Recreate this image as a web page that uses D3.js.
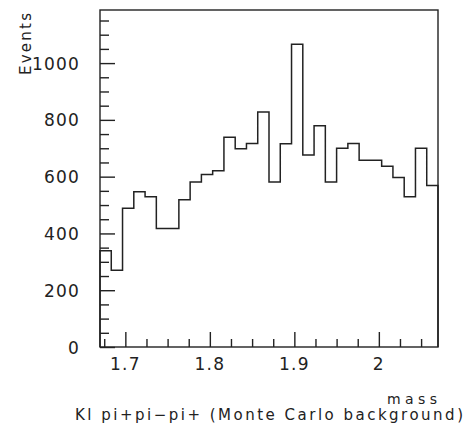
<!DOCTYPE html>
<html>
<head>
<meta charset="utf-8">
<script src="https://cdn.jsdelivr.net/npm/d3@7"></script>
<style>
  html, body { margin: 0; padding: 0; background: #fff; }
  svg { display: block; }
  text { font-family: "DejaVu Sans", sans-serif; fill: #222; }
</style>
</head>
<body>
<svg id="chart" width="474" height="425"></svg>
<script>
// ---- data ----
const xRange = [1.67, 2.07];          // histogram axis range
const binCount = 30;
const counts = [339, 270, 489, 547, 529, 417, 417, 519, 581, 608,
                621, 739, 698, 717, 828, 581, 716, 1066, 676, 779,
                581, 700, 717, 658, 658, 637, 597, 529, 700, 569];
const xTickValues = [1.7, 1.8, 1.9, 2.0];
const xTickLabels = ["1.7", "1.8", "1.9", "2"];
const yTickValues = [0, 200, 400, 600, 800, 1000];
const yTickLabels = ["0", "200", "400", "600", "800", "1000"];
const yMax = 1187;
const xTitle = "mass";
const yTitle = "Events";
const chartTitle = "Kl pi+pi\u2212pi+ (Monte Carlo background)";

// ---- layout ----
const svg = d3.select("#chart");
const L = 100, R = 438, T = 10, B = 347;
const x = d3.scaleLinear().domain(xRange).range([L, R]);
const y = d3.scaleLinear().domain([0, yMax]).range([B, T]);
const ink = "#222";

// frame
svg.append("rect").attr("x", L).attr("y", T).attr("width", R - L).attr("height", B - T)
  .attr("fill", "none").attr("stroke", ink).attr("stroke-width", 1.4);

// axes (ticks pointing inward)
const xAxis = d3.axisTop(x).tickValues(xTickValues).tickSize(15).tickFormat("");
const xMinor = d3.axisTop(x).tickValues(d3.range(1.675, 2.07, 0.025).filter(v => !xTickValues.some(t => Math.abs(t - v) < 1e-6))).tickSize(8).tickFormat("");
const yAxis = d3.axisRight(y).tickValues(yTickValues).tickSize(15).tickFormat("");
const yMinor = d3.axisRight(y).tickValues(d3.range(50, yMax, 50).filter(v => v % 200 !== 0)).tickSize(9).tickFormat("");

function styleAxis(g) {
  g.select(".domain").remove();
  g.selectAll("line").attr("stroke", ink).attr("stroke-width", 1.4);
}
svg.append("g").attr("transform", `translate(0,${B})`).call(xAxis).call(styleAxis);
svg.append("g").attr("transform", `translate(0,${B})`).call(xMinor).call(styleAxis);
svg.append("g").attr("transform", `translate(${L},0)`).call(yAxis).call(styleAxis);
svg.append("g").attr("transform", `translate(${L},0)`).call(yMinor).call(styleAxis);

// tick labels
svg.append("g").selectAll("text").data(xTickValues).join("text")
  .attr("x", d => x(d)).attr("y", 370)
  .attr("text-anchor", "middle")
  .style("font-size", "17px").style("letter-spacing", "1.2px")
  .text((d, i) => xTickLabels[i]);

svg.append("g").selectAll("text").data(yTickValues).join("text")
  .attr("x", 80).attr("y", d => y(d) + 6.5)
  .attr("text-anchor", "end")
  .style("font-size", "17px").style("letter-spacing", "1.2px")
  .text((d, i) => yTickLabels[i]);

// histogram outline
const binW = (xRange[1] - xRange[0]) / binCount;
const pts = [[xRange[0], 0]];
counts.forEach((c, i) => {
  const x0 = xRange[0] + i * binW;
  pts.push([x0, c], [x0 + binW, c]);
});
pts.push([xRange[1], 0]);
svg.append("path")
  .attr("d", d3.line().x(d => x(d[0])).y(d => y(d[1]))(pts))
  .attr("fill", "none").attr("stroke", ink).attr("stroke-width", 1.5);

// titles
svg.append("text").attr("x", 437).attr("y", 404).attr("text-anchor", "end")
  .style("font-size", "14px").attr("textLength", 50).attr("lengthAdjust", "spacing")
  .text(xTitle);
svg.append("text").attr("transform", "translate(31,13) rotate(-90)")
  .attr("text-anchor", "end")
  .style("font-size", "15px").attr("textLength", 62).attr("lengthAdjust", "spacing")
  .text(yTitle);
svg.append("text").attr("x", 75).attr("y", 420)
  .style("font-size", "15px").attr("textLength", 388).attr("lengthAdjust", "spacing")
  .text(chartTitle);
</script>
</body>
</html>
